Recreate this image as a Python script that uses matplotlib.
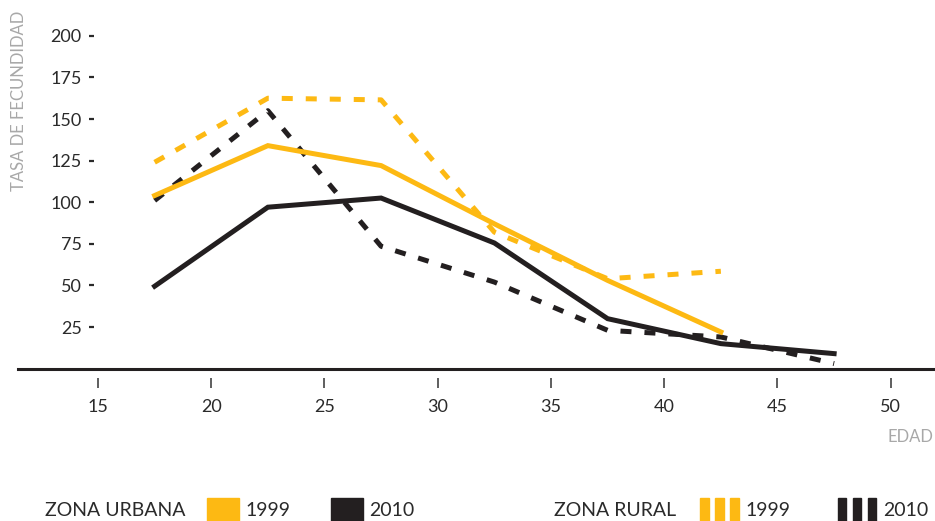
import matplotlib
matplotlib.use("Agg")
import matplotlib.pyplot as plt
from matplotlib.patches import Rectangle

plt.rcParams['font.family'] = ['Lato', 'DejaVu Sans']

YELLOW = "#FDB913"
BLACK = "#231F20"
GREY = "#A8A8A8"
TXT = "#2A2A2A"

edad = [17.5, 22.5, 27.5, 32.5, 37.5, 42.5, 47.5]
urbana_1999 = [104, 134, 122, 87, 53, 22]
urbana_2010 = [49.5, 97, 102.5, 75.5, 30, 15, 9]
rural_1999 = [124, 162.5, 161.5, 82, 54, 58.5]
rural_2010 = [101, 155, 73.5, 52, 23, 19, 3]

y_ticks = [25, 50, 75, 100, 125, 150, 175, 200]
x_ticks = [15, 20, 25, 30, 35, 40, 45, 50]

W, H = 935, 521


def px(x, y):
    return x / W, 1 - y / H


fig = plt.figure(figsize=(W / 100, H / 100), dpi=100)
ax = fig.add_axes([18 / W, (H - 368.6) / H, 917 / W, 210 * 1.664 / H])
ax.set_xlim(15 - 80 / 22.65, 15 + 837 / 22.65)
ax.set_ylim(0, 210)

lw = 3.6
dash = (0, (2.2, 2.6))
ax.plot(edad[:len(rural_1999)], rural_1999, color=YELLOW, lw=lw, ls=dash, dash_capstyle="butt")
ax.plot(edad[:len(rural_2010)], rural_2010, color=BLACK, lw=lw, ls=dash, dash_capstyle="butt")
ax.plot(edad[:len(urbana_2010)], urbana_2010, color=BLACK, lw=lw, solid_joinstyle="miter")
ax.plot(edad[:len(urbana_1999)], urbana_1999, color=YELLOW, lw=lw, solid_joinstyle="miter")

ax.axhline(0, color=BLACK, lw=2.2, clip_on=False)

for s in ["top", "right", "left", "bottom"]:
    ax.spines[s].set_visible(False)
ax.spines["bottom"].set_position(("outward", 6.5))
ax.spines["left"].set_position(("data", 15 - 4 / 22.65))

ax.set_xticks(x_ticks)
ax.set_yticks(y_ticks)
ax.tick_params(axis="x", direction="out", length=7.2, width=1.1, color="#333333",
               pad=8, labelsize=13, labelcolor=TXT)
ax.tick_params(axis="y", direction="out", length=3.8, width=1.6, color=TXT,
               pad=5, labelsize=13, labelcolor=TXT)

fig.text(*px(19.5, 101), "TASA DE FECUNDIDAD", rotation=90, color=GREY,
         fontsize=12, ha="center", va="center")
fig.text(*px(933, 437), "EDAD", color=GREY, fontsize=12, ha="right", va="center")

# leyenda
ly = 510
fs = 14
fig.text(*px(45, ly), "ZONA URBANA", fontsize=fs, color=TXT, va="center")
fig.patches.append(Rectangle(px(207, 523), 32 / W, 25 / H, color=YELLOW,
                             transform=fig.transFigure))
fig.text(*px(245, ly), "1999", fontsize=fs, color=TXT, va="center")
fig.patches.append(Rectangle(px(331, 523), 32 / W, 25 / H, color=BLACK,
                             transform=fig.transFigure))
fig.text(*px(369, ly), "2010", fontsize=fs, color=TXT, va="center")

fig.text(*px(554, ly), "ZONA RURAL", fontsize=fs, color=TXT, va="center")
for bx in [700, 715, 730]:
    fig.patches.append(Rectangle(px(bx, 523), 8.5 / W, 25 / H, color=YELLOW,
                                 transform=fig.transFigure))
fig.text(*px(745, ly), "1999", fontsize=fs, color=TXT, va="center")
for bx in [837.5, 852.5, 867.5]:
    fig.patches.append(Rectangle(px(bx, 523), 8.5 / W, 25 / H, color=BLACK,
                                 transform=fig.transFigure))
fig.text(*px(883, ly), "2010", fontsize=fs, color=TXT, va="center")

fig.savefig("out.png", dpi=100)
